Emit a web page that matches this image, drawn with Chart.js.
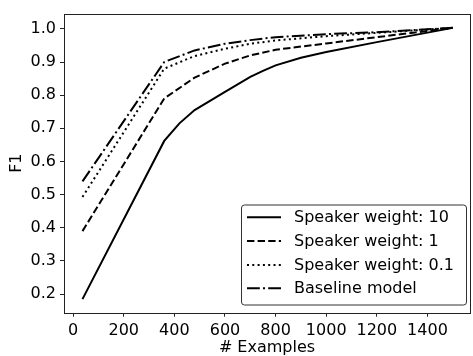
<!DOCTYPE html>
<html>
<head>
<meta charset="utf-8">
<script src="https://cdn.jsdelivr.net/npm/chart.js@4"></script>
<style>
html,body{margin:0;padding:0;background:#fff;}
#wrap{width:473px;height:356px;position:relative;}
</style>
</head>
<body>
<div id="wrap"><canvas id="c" width="473" height="356"></canvas></div>
<script>
// ---- data ----
const seriesLabels = ["Speaker weight: 10", "Speaker weight: 1", "Speaker weight: 0.1", "Baseline model"];
const xSolid = [37, 360, 420, 480, 600, 700, 750, 800, 900, 1000, 1200, 1500];
const ySolid = [0.185, 0.662, 0.715, 0.755, 0.81, 0.855, 0.873, 0.89, 0.913, 0.93, 0.96, 1.003];
const xOther = [37, 360, 480, 600, 700, 800, 1000, 1200, 1500];
const yDashed = [0.39, 0.79, 0.853, 0.895, 0.92, 0.937, 0.956, 0.975, 1.003];
const yDotted = [0.493, 0.88, 0.918, 0.94, 0.955, 0.965, 0.978, 0.988, 1.003];
const yDashDot = [0.54, 0.9, 0.935, 0.955, 0.966, 0.975, 0.984, 0.99, 1.003];
const xTicks = [0, 200, 400, 600, 800, 1000, 1200, 1400];
const yTicks = [0.2, 0.3, 0.4, 0.5, 0.6, 0.7, 0.8, 0.9, 1.0];

const dashes = [[], [7.4, 3.2], [2, 3.3], [12.8, 3.2, 2, 3.2]];
const toPts = (xs, ys) => xs.map((x, i) => ({x: x, y: ys[i]}));
const dataSets = [toPts(xSolid, ySolid), toPts(xOther, yDashed), toPts(xOther, yDotted), toPts(xOther, yDashDot)];

const FONT = "'DejaVu Sans', sans-serif";

const boxPlugin = {
  id: 'box',
  afterDraw(chart) {
    const ctx = chart.ctx, a = chart.chartArea;
    ctx.save();
    ctx.strokeStyle = '#222';
    ctx.lineWidth = 1;
    ctx.strokeRect(Math.round(a.left) + 0.5, Math.round(a.top) + 0.5, Math.round(a.right - a.left), Math.round(a.bottom - a.top));
    // legend
    const lx = 241, ly = 204.5, lw = 225, lh = 100;
    ctx.fillStyle = 'rgba(255,255,255,0.85)';
    ctx.lineWidth = 1;
    ctx.beginPath();
    ctx.roundRect(lx + 0.5, ly + 0.5, lw, lh, 3);
    ctx.fill();
    ctx.strokeStyle = '#333';
    ctx.stroke();
    ctx.font = '16px ' + FONT;
    ctx.textBaseline = 'middle';
    ctx.fillStyle = '#000';
    const rows = [217.2, 241.0, 265.0, 288.3];
    seriesLabels.forEach((lab, i) => {
      ctx.strokeStyle = '#000';
      ctx.lineWidth = 2;
      ctx.setLineDash(dashes[i]);
      ctx.beginPath();
      ctx.moveTo(247, rows[i]);
      ctx.lineTo(281, rows[i]);
      ctx.stroke();
      ctx.setLineDash([]);
      ctx.fillText(lab, 294, rows[i] + 1);
    });
    ctx.restore();
  }
};

new Chart(document.getElementById('c'), {
  type: 'line',
  data: {
    datasets: dataSets.map((d, i) => ({
      label: seriesLabels[i],
      data: d,
      borderColor: '#000',
      borderWidth: 2,
      borderDash: dashes[i],
      pointRadius: 0,
      fill: false,
      tension: 0
    }))
  },
  options: {
    responsive: false,
    animation: false,
    layout: {padding: {top: 7, right: 3, left: 0, bottom: 0}},
    plugins: {legend: {display: false}, tooltip: {enabled: false}},
    scales: {
      x: {
        type: 'linear',
        min: -36, max: 1568,
        afterBuildTicks: s => { s.ticks = xTicks.map(v => ({value: v})); },
        afterFit: s => { s.height = 43.3; },
        ticks: {color: '#000', font: {family: FONT, size: 16}, padding: 5, maxRotation: 0, autoSkip: false, callback: v => String(v)},
        grid: {drawOnChartArea: false, tickLength: 4, color: '#222', tickColor: '#222'},
        border: {display: false},
        title: {display: true, text: '# Examples', color: '#000', font: {family: FONT, size: 16}, padding: {top: 0, bottom: -1}}
      },
      y: {
        type: 'linear',
        min: 0.144, max: 1.046,
        afterBuildTicks: s => { s.ticks = yTicks.map(v => ({value: v})); },
        afterFit: s => { s.width = 64; },
        ticks: {color: '#000', font: {family: FONT, size: 16}, padding: 4, callback: v => v.toFixed(1), autoSkip: false},
        grid: {drawOnChartArea: false, tickLength: 4, color: '#222', tickColor: '#222'},
        border: {display: false},
        title: {display: true, text: 'F1', color: '#000', font: {family: FONT, size: 16}, padding: {top: 7, bottom: 0}}
      }
    }
  },
  plugins: [boxPlugin]
});
</script>
</body>
</html>
